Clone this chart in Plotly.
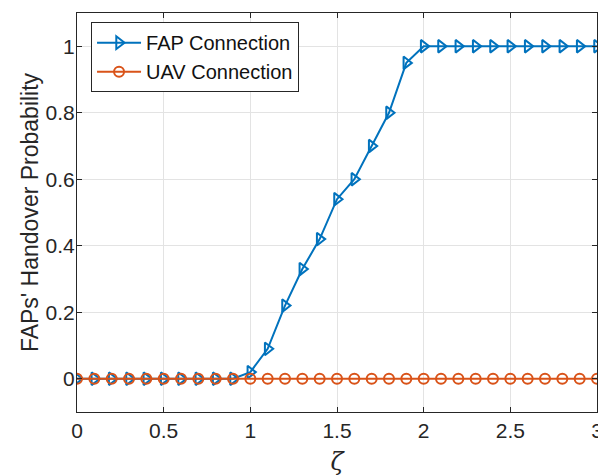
import plotly.graph_objects as go

zeta = [round(i * 0.1, 1) for i in range(31)]
fap = [0, 0, 0, 0, 0, 0, 0, 0, 0, 0,
       0.02, 0.09, 0.22, 0.33, 0.42, 0.54, 0.60, 0.70, 0.80, 0.95,
       1, 1, 1, 1, 1, 1, 1, 1, 1, 1, 1]
uav = [0] * 31

fig = go.Figure()
fig.add_trace(go.Scatter(x=zeta, y=fap, mode="lines+markers", name="FAP Connection",
                         line=dict(color="#0072BD", width=2),
                         marker=dict(symbol="triangle-right-open", size=11, color="#0072BD",
                                     line=dict(width=2, color="#0072BD"))))
fig.add_trace(go.Scatter(x=zeta, y=uav, mode="lines+markers", name="UAV Connection",
                         line=dict(color="#D95319", width=2),
                         marker=dict(symbol="circle-open", size=10, color="#D95319",
                                     line=dict(width=2, color="#D95319"))))

axis_common = dict(showline=True, linecolor="#262626", linewidth=1, mirror="ticks",
                   ticks="inside", ticklen=5, tickcolor="#262626", automargin=False,
                   showgrid=True, gridcolor="#e3e3e3", gridwidth=1, zeroline=False,
                   tickfont=dict(family="Liberation Sans, Arial", size=21, color="#262626"))

fig.update_xaxes(range=[0, 3], tickvals=[0, 0.5, 1, 1.5, 2, 2.5, 3],
                 ticktext=["0", "0.5", "1", "1.5", "2", "2.5", "3"],
                 title=dict(text="<i>ζ</i>", font=dict(family="DejaVu Serif, serif", size=24, color="#262626"),
                            standoff=20),
                 **axis_common)
fig.update_yaxes(range=[-0.1, 1.1], tickvals=[0, 0.2, 0.4, 0.6, 0.8, 1],
                 ticktext=["0", "0.2", "0.4", "0.6", "0.8", "1"],
                 ticklabelstandoff=-3,
                 title=dict(text="FAPs' Handover Probability",
                            font=dict(family="Liberation Sans, Arial", size=23, color="#262626"),
                            standoff=0),
                 **axis_common)

# page body has an 8px margin, so the figure is shrunk and shifted by it
fig.update_layout(width=598, height=468, margin=dict(l=69, r=9, t=5, b=64),
                  plot_bgcolor="white", paper_bgcolor="white", showlegend=True,
                  legend=dict(x=0.027, y=0.977, xanchor="left", yanchor="top",
                              bgcolor="white", bordercolor="#262626", borderwidth=1,
                              font=dict(family="Liberation Sans, Arial", size=20, color="#111"),
                              itemwidth=44, tracegroupgap=0))

fig.write_html("out.html")
